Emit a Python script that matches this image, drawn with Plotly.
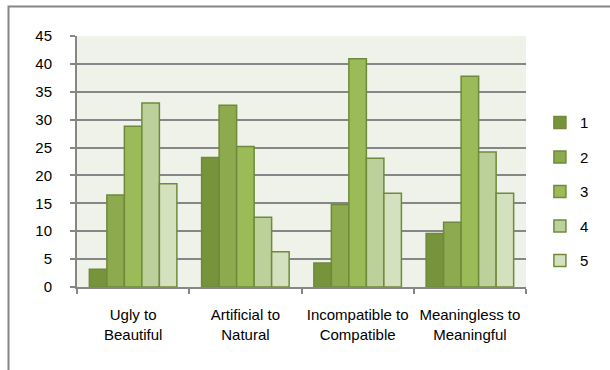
import plotly.graph_objects as go

# Rating categories on the x axis (two-line labels)
categories = ["Ugly to<br>Beautiful", "Artificial to<br>Natural",
              "Incompatible to<br>Compatible", "Meaningless to<br>Meaningful"]

# Percentage of responses for each rating level 1..5
series_names = ["1", "2", "3", "4", "5"]
rating_1 = [3.2, 23.2, 4.3, 9.6]
rating_2 = [16.5, 32.6, 14.8, 11.6]
rating_3 = [28.8, 25.2, 40.9, 37.8]
rating_4 = [33.0, 12.5, 23.1, 24.2]
rating_5 = [18.5, 6.3, 16.8, 16.8]
series_values = [rating_1, rating_2, rating_3, rating_4, rating_5]

y_ticks = [0, 5, 10, 15, 20, 25, 30, 35, 40, 45]

fills = ["#77933C", "#8EAA4E", "#9BBB59", "#BBD09A", "#D4E1BF"]
outline = "#6F8A3C"
grey = "#868686"
font_family = "Liberation Sans, Arial, sans-serif"

W, H = 610, 370
L, R, T, B = 77, 84, 36, 83

fig = go.Figure()
for name, vals, col in zip(series_names, series_values, fills):
    fig.add_trace(go.Bar(
        x=categories, y=vals, name=name, legendgroup=name,
        marker=dict(color=col, line=dict(color=outline, width=1.5)),
    ))

pw = W - L - R
ph = H - T - B
# outer chart frame (runs past the right and bottom edges of the page)
fig.add_shape(type="rect", xref="paper", yref="paper",
              x0=(8.5 - L) / pw, x1=(W + 20 - L) / pw,
              y0=-(H + 20 - T - ph) / ph, y1=1 + (T - 6.5) / ph,
              line=dict(color=grey, width=2), fillcolor="rgba(0,0,0,0)",
              layer="above")

fig.update_layout(
    width=W, height=H,
    margin=dict(l=L, r=R, t=T, b=B, pad=0),
    paper_bgcolor="white",
    plot_bgcolor="#EFF2E9",
    barmode="group", bargap=0.22, bargroupgap=0,
    font=dict(family=font_family, size=15, color="#000000"),
    showlegend=True,
    legend=dict(x=1.031, xanchor="left", y=0.72, yanchor="top",
                traceorder="grouped", tracegroupgap=12,
                font=dict(size=15), bgcolor="rgba(0,0,0,0)"),
    xaxis=dict(showgrid=False, showline=True, linecolor=grey, linewidth=2,
               ticks="outside", tickson="boundaries", ticklen=5, tickcolor=grey,
               tickwidth=1.5, ticklabelstandoff=13, tickfont=dict(size=15)),
    yaxis=dict(range=[0, 45], tickvals=y_ticks, showgrid=True, gridcolor=grey,
               gridwidth=2, showline=True, linecolor=grey, linewidth=2,
               ticks="outside", ticklen=5, tickcolor=grey, tickwidth=2,
               ticklabelstandoff=15, zeroline=False, tickfont=dict(size=15)),
)

fig.write_html("out.html")
